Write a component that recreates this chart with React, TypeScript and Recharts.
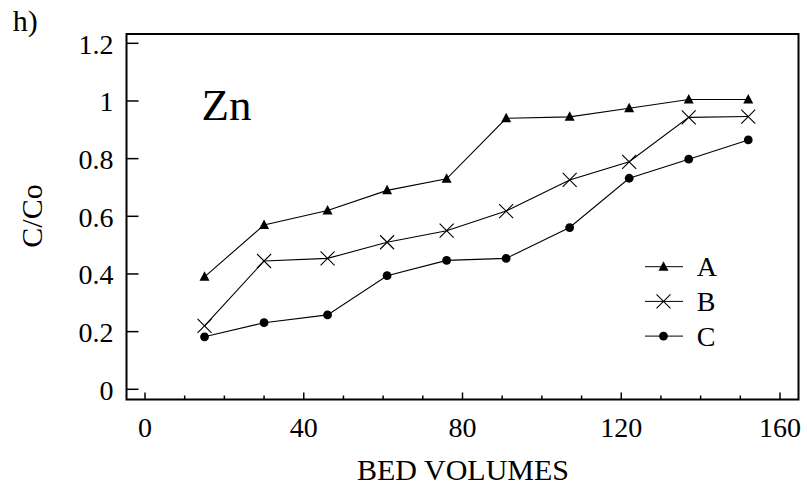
import React from "react";
import { LineChart, Line, XAxis, YAxis, Legend, Customized } from "recharts";

const bedVolumes = [15, 30, 46, 61, 76, 91, 107, 122, 137, 152];
const seriesA = [0.39, 0.57, 0.62, 0.69, 0.73, 0.94, 0.945, 0.975, 1.005, 1.005];
const seriesB = [0.22, 0.445, 0.454, 0.51, 0.55, 0.618, 0.726, 0.789, 0.943, 0.946];
const seriesC = [0.182, 0.231, 0.258, 0.394, 0.447, 0.454, 0.561, 0.732, 0.798, 0.865];
const xTicks = [0, 10, 20, 30, 40, 50, 60, 70, 80, 90, 100, 110, 120, 130, 140, 150, 160];
const xLabelTicks = [0, 40, 80, 120, 160];
const yTicks = [0, 0.2, 0.4, 0.6, 0.8, 1, 1.2];
const yTickLabels = ["0", "0.2", "0.4", "0.6", "0.8", "1", "1.2"];
const seriesNames = ["A", "B", "C"];

const data = bedVolumes.map((x, i) => ({ x, A: seriesA[i], B: seriesB[i], C: seriesC[i] }));

const FONT = "Liberation Serif, Times New Roman, serif";
const W = 807;
const H = 486;
const PLOT_LEFT = 126.5;
const PLOT_TOP = 34;
const PLOT_RIGHT = 798.5;
const PLOT_BOTTOM = 399.5;

const txt = (size: number) => ({ fontFamily: FONT, fontSize: size });

const Triangle = ({ cx, cy }: any) =>
  cx == null || cy == null ? null : (
    <path d={`M${cx},${cy - 5.5} L${cx + 5},${cy + 4} L${cx - 5},${cy + 4} Z`} fill="#000" />
  );
const Cross = ({ cx, cy }: any) =>
  cx == null || cy == null ? null : (
    <path
      d={`M${cx - 7},${cy - 7} L${cx + 7},${cy + 7} M${cx - 7},${cy + 7} L${cx + 7},${cy - 7}`}
      stroke="#000"
      strokeWidth={1.1}
      fill="none"
    />
  );
const Circle = ({ cx, cy }: any) =>
  cx == null || cy == null ? null : <circle cx={cx} cy={cy} r={4.4} fill="#000" />;

const markers: any = { A: Triangle, B: Cross, C: Circle };

const BottomTick = (props: any) => {
  const { x, y, payload } = props;
  const v = payload.value;
  const major = xLabelTicks.includes(v);
  return (
    <g>
      <line x1={x} x2={x} y1={y} y2={y - (major ? 7 : 4)} stroke="#000" strokeWidth={1.5} />
      {major && (
        <text x={x} y={y + 37.5} textAnchor="middle" style={txt(28)} fill="#000">
          {String(v)}
        </text>
      )}
    </g>
  );
};

const TopTick = (props: any) => {
  const { x, y } = props;
  return <line x1={x} x2={x} y1={y} y2={y + 7} stroke="#000" strokeWidth={1.5} />;
};

const LeftTick = (props: any) => {
  const { x, y, payload } = props;
  const idx = yTicks.indexOf(payload.value);
  return (
    <g>
      <line x1={x} x2={x + 12} y1={y} y2={y} stroke="#000" strokeWidth={1.5} />
      <text x={113.5} y={y + 10.5} textAnchor="end" style={txt(28)} fill="#000">
        {idx >= 0 ? yTickLabels[idx] : String(payload.value)}
      </text>
    </g>
  );
};

const RightTick = (props: any) => {
  const { x, y } = props;
  return <line x1={x} x2={x - 12} y1={y} y2={y} stroke="#000" strokeWidth={1.5} />;
};

const LegendContent = () => (
  <svg width={100} height={115} style={{ display: "block", overflow: "visible" }}>
    {seriesNames.map((name, i) => {
      const cy = 16.7 + i * 34.7;
      const M = markers[name];
      return (
        <g key={name}>
          <line x1={5} x2={43} y1={cy} y2={cy} stroke="#000" strokeWidth={1} />
          <M cx={23.5} cy={cy} />
          <text x={56.7} y={cy + 9.5} style={txt(28)} fill="#000">
            {name}
          </text>
        </g>
      );
    })}
  </svg>
);

const Frame = () => (
  <g>
    <rect
      x={PLOT_LEFT}
      y={PLOT_TOP}
      width={PLOT_RIGHT - PLOT_LEFT}
      height={PLOT_BOTTOM - PLOT_TOP}
      fill="none"
      stroke="#000"
      strokeWidth={2}
    />
    <text x={12.7} y={31} style={txt(30)} fill="#000">
      h)
    </text>
    <text x={201.5} y={120} style={txt(45)} fill="#000">
      Zn
    </text>
    <text
      x={42}
      y={216}
      transform="rotate(-90 42 216)"
      textAnchor="middle"
      style={txt(30)}
      fill="#000"
    >
      C/Co
    </text>
    <text x={463} y={480} textAnchor="middle" style={txt(30)} fill="#000">
      BED VOLUMES
    </text>
  </g>
);

export default function App() {
  return (
    <div style={{ position: "fixed", left: 0, top: 0, width: W, height: H, background: "#fff" }}>
      <LineChart
        width={W}
        height={H}
        data={data}
        margin={{ top: PLOT_TOP, right: W - PLOT_RIGHT, bottom: 0, left: 0 }}
      >
        <XAxis
          xAxisId="bottom"
          dataKey="x"
          type="number"
          domain={[-4.66, 164.66]}
          ticks={xTicks}
          interval={0}
          allowDataOverflow
          orientation="bottom"
          height={H - PLOT_BOTTOM}
          axisLine={false}
          tickLine={false}
          tickSize={0}
          tickMargin={0}
          tick={<BottomTick />}
        />
        <XAxis
          xAxisId="top"
          dataKey="x"
          type="number"
          domain={[-4.66, 164.66]}
          ticks={xTicks}
          interval={0}
          allowDataOverflow
          orientation="top"
          height={0}
          axisLine={false}
          tickLine={false}
          tickSize={0}
          tickMargin={0}
          tick={<TopTick />}
        />
        <YAxis
          yAxisId="left"
          type="number"
          domain={[-0.0354, 1.2323]}
          ticks={yTicks}
          interval={0}
          allowDataOverflow
          orientation="left"
          width={PLOT_LEFT}
          axisLine={false}
          tickLine={false}
          tickSize={0}
          tickMargin={0}
          tick={<LeftTick />}
        />
        <YAxis
          yAxisId="right"
          type="number"
          domain={[-0.0354, 1.2323]}
          ticks={yTicks}
          interval={0}
          allowDataOverflow
          orientation="right"
          width={0}
          axisLine={false}
          tickLine={false}
          tickSize={0}
          tickMargin={0}
          tick={<RightTick />}
        />
        {seriesNames.map((name) => {
          const M = markers[name];
          return (
            <Line
              key={name}
              xAxisId="bottom"
              yAxisId="left"
              dataKey={name}
              stroke="#000"
              strokeWidth={1.1}
              dot={(p: any) => <M key={`${name}-${p.index}`} cx={p.cx} cy={p.cy} />}
              activeDot={false}
              isAnimationActive={false}
            />
          );
        })}
        <Customized component={<Frame />} />
        <Legend
          layout="vertical"
          align="center"
          verticalAlign="middle"
          content={<LegendContent />}
          wrapperStyle={{ position: "absolute", left: 640, top: 250, width: 100, height: 115 }}
        />
      </LineChart>
    </div>
  );
}
